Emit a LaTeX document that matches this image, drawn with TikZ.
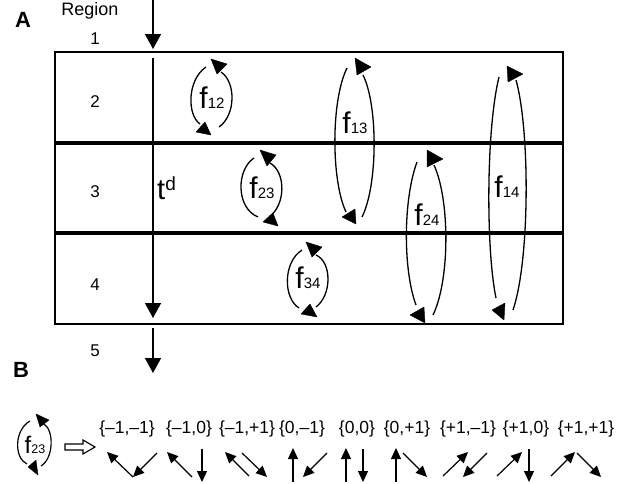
\documentclass[tikz,border=0pt]{standalone}
\usepackage{fontspec}
\setmainfont{Liberation Sans}
\usetikzlibrary{arrows.meta}
\newcommand{\fluxlabel}[3]{{\fontsize{#1}{#1}\selectfont f}{\fontsize{#2}{#2}\selectfont #3}}
\begin{document}
\begin{tikzpicture}[x=1pt,y=-1pt,
  lbl/.style={font=\fontsize{17}{17}\selectfont, anchor=base, inner sep=0pt},
  setlbl/.style={font=\fontsize{17.5}{17.5}\selectfont, anchor=base, inner sep=0pt},
  panel/.style={font=\fontsize{22}{22}\selectfont\bfseries, anchor=base, inner sep=0pt},
  flab/.style={anchor=base, inner sep=0pt},
  floop/.style={line width=1.3pt},
  tri/.style={fill=black, draw=black, line width=0.4pt, line join=round},
  bigarrow/.style={line width=1.5pt, -{Triangle[width=16pt,length=15pt]}},
  smallarrow/.style={line width=1.2pt, -{Triangle[width=10pt,length=11pt]}},
  outerbox/.style={line width=2pt},
  sepline/.style={line width=3.5pt},
]
\useasboundingbox (0,0) rectangle (625,483);

% ---------- Panel A ----------
\node[panel] (A) at (23,27) {A};
\node[lbl, font=\fontsize{18}{18}\selectfont] (region) at (90,15) {Region};
\node[lbl] (r1) at (95,44) {1};
\node[lbl] (r2) at (95,107) {2};
\node[lbl] (r3) at (95,197) {3};
\node[lbl] (r4) at (95,290) {4};
\node[lbl] (r5) at (95,356) {5};

\draw[outerbox] (55,52) rectangle (563,324);
\draw[sepline] (55,143) -- (563,143);
\draw[sepline] (55,233) -- (563,233);

\coordinate (t0) at (153,0);
\coordinate (t1) at (153,49);
\coordinate (t2) at (153,58);
\coordinate (t3) at (153,318);
\coordinate (t4) at (153,328);
\coordinate (t5) at (153,373);
\draw[bigarrow] (t0) -- (t1);
\draw[bigarrow] (t2) -- (t3);
\draw[bigarrow] (t4) -- (t5);

\node[anchor=base west, inner sep=0pt] (td) at (157,199)
  {{\fontsize{29}{29}\selectfont t}\raisebox{9pt}{\fontsize{19}{19}\selectfont d}};

% f12
\draw[floop] (206,67) .. controls (187,80) and (187,115) .. (200,124);
\draw[floop] (219,127) .. controls (236,115) and (236,82) .. (221,72);
\filldraw[tri] (196,132) -- (205,122) -- (211,135) -- cycle;
\filldraw[tri] (211,59) -- (227,64) -- (217,74) -- cycle;
\node[flab] (f12) at (212,108) {\fluxlabel{30}{15}{12}};

% f23
\draw[floop] (254,158) .. controls (236,170) and (236,208) .. (258,217);
\draw[floop] (269,217) .. controls (286,205) and (286,172) .. (270,163);
\filldraw[tri] (263,222) -- (273,213) -- (278,226) -- cycle;
\filldraw[tri] (260,150) -- (276,155) -- (267,166) -- cycle;
\node[flab] (f23) at (262,198) {\fluxlabel{30}{15}{23}};

% f34
\draw[floop] (302,250) .. controls (283,262) and (283,298) .. (299,308);
\draw[floop] (316,307) .. controls (332,295) and (332,262) .. (316,255);
\filldraw[tri] (301,314) -- (310,304) -- (317,317) -- cycle;
\filldraw[tri] (306,242) -- (322,247) -- (312,257) -- cycle;
\node[flab] (f34) at (308,288) {\fluxlabel{30}{15}{34}};

% f13
\draw[floop] (347,68) .. controls (331,100) and (331,180) .. (346,212);
\draw[floop] (362,217) .. controls (378,185) and (378,105) .. (363,75);
\filldraw[tri] (342,217) -- (355,209) -- (356,224) -- cycle;
\filldraw[tri] (355,58) -- (357,75) -- (371,67) -- cycle;
\node[flab] (f13) at (355,133) {\fluxlabel{30}{15}{13}};

% f24
\draw[floop] (417,162) .. controls (403,200) and (403,270) .. (416,305);
\draw[floop] (433,315) .. controls (450,280) and (450,200) .. (434,165);
\filldraw[tri] (410,315) -- (424,307) -- (425,323) -- cycle;
\filldraw[tri] (427,150) -- (427,167) -- (443,159) -- cycle;
\node[flab] (f24) at (427,225) {\fluxlabel{30}{15}{24}};

% f14
\draw[floop] (499,77) .. controls (486,130) and (486,250) .. (496,298);
\draw[floop] (513,310) .. controls (530,260) and (530,130) .. (516,80);
\filldraw[tri] (492,310) -- (505,303) -- (504,320) -- cycle;
\filldraw[tri] (507,66) -- (508,82) -- (523,74) -- cycle;
\node[flab] (f14) at (507,197) {\fluxlabel{30}{15}{14}};

% ---------- Panel B ----------
\node[panel] (B) at (21,377) {B};

\draw[line width=1.2pt] (30,421) .. controls (14,430) and (14,458) .. (27,464);
\draw[line width=1.2pt] (41,466) .. controls (54,458) and (54,430) .. (44,424);
\filldraw[tri] (28,467) -- (36,460) -- (38,475) -- cycle;
\filldraw[tri] (36,414) -- (49,420) -- (40,427) -- cycle;
\node[flab] (fb) at (35,453) {\fluxlabel{24}{12.5}{23}};

\draw[line width=1.1pt, line join=miter] (65,444) -- (83,444) -- (83,440) -- (95,447) -- (83,454) -- (83,450) -- (65,450) -- cycle;

\node[setlbl] (s1) at (127,433) {\{–1,–1\}};
\node[setlbl] (s2) at (189,433) {\{–1,0\}};
\node[setlbl] (s3) at (247,433) {\{–1,+1\}};
\node[setlbl] (s4) at (302,433) {\{0,–1\}};
\node[setlbl] (s5) at (357,433) {\{0,0\}};
\node[setlbl] (s6) at (407,433) {\{0,+1\}};
\node[setlbl] (s7) at (468,433) {\{+1,–1\}};
\node[setlbl] (s8) at (526,433) {\{+1,0\}};
\node[setlbl] (s9) at (586,433) {\{+1,+1\}};

\draw[smallarrow] (133,477) -- (107,452);
\draw[smallarrow] (157,453) -- (133,477);
\draw[smallarrow] (192,477) -- (167,452);
\draw[smallarrow] (202,449) -- (202,482);
\draw[smallarrow] (249,476) -- (225,452);
\draw[smallarrow] (242,453) -- (267,477);
\draw[smallarrow] (293,482) -- (293,448);
\draw[smallarrow] (327,453) -- (303,477);
\draw[smallarrow] (346,482) -- (346,448);
\draw[smallarrow] (363,449) -- (363,482);
\draw[smallarrow] (396,482) -- (396,448);
\draw[smallarrow] (403,453) -- (427,477);
\draw[smallarrow] (443,476) -- (468,452);
\draw[smallarrow] (487,453) -- (463,477);
\draw[smallarrow] (497,476) -- (522,452);
\draw[smallarrow] (529,449) -- (529,482);
\draw[smallarrow] (551,476) -- (575,452);
\draw[smallarrow] (577,453) -- (601,477);
\end{tikzpicture}
\end{document}
